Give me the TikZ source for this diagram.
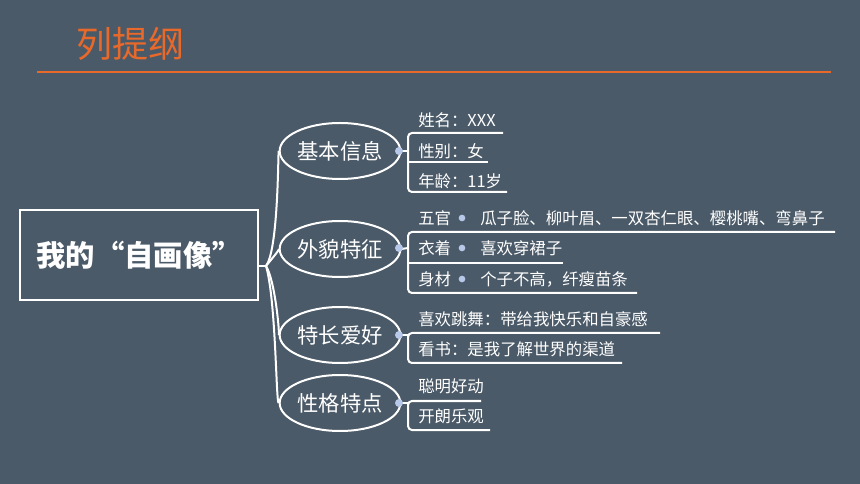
\documentclass[tikz,border=0pt]{standalone}
\usepackage{fontspec}
\setmainfont{Noto Sans CJK SC}
\usetikzlibrary{shapes.geometric}
\definecolor{bg}{HTML}{4B5A68}
\definecolor{org}{HTML}{E8692A}
\definecolor{dotc}{HTML}{B8C8E8}
\begin{document}
\begin{tikzpicture}[x=0.75pt,y=-0.75pt,
 ell/.style={draw=white,line width=1.5pt,ellipse,minimum width=78pt,minimum height=42pt,inner sep=0pt,font=\fontsize{16}{16}\selectfont,text=white},
 itm/.style={anchor=west,inner sep=0pt,font=\fontsize{12.3}{13}\selectfont,text=white},
 ln/.style={draw=white,line width=1.5pt},
 dt/.style={circle,fill=dotc,inner sep=0pt,minimum size=6pt}]
\useasboundingbox[fill=bg] (0,0) rectangle (860,484);
\node[anchor=west,text=org,font=\fontsize{27}{27}\selectfont] (title) at (72,44) {列提纲};
\draw[org,line width=1.5pt] (37,72) -- (831,72);
\node[draw=white,line width=1.5pt,minimum width=178pt,minimum height=68pt,text=white,font=\bfseries\fontsize{22}{22}\selectfont] (main) at (139,255) {我的“自画像”};
\node[ell] (e1) at (340,151) {基本信息};
\node[ell] (e2) at (340,249) {外貌特征};
\node[ell] (e3) at (340,335) {特长爱好};
\node[ell] (e4) at (340,403) {性格特点};
\coordinate (hub) at (266,266);
\draw[ln] (main.east|-hub) -- (hub);
\draw[ln] (hub) .. controls (278,250) and (278,160) .. (e1.west);
\draw[ln] (hub) .. controls (275,255) and (280,249) .. (e2.west);
\draw[ln] (hub) .. controls (275,280) and (280,335) .. (e3.west);
\draw[ln] (hub) .. controls (276,300) and (276,403) .. (e4.west);
\foreach \e/\y in {e1/151,e2/248,e3/335,e4/403}{
 \draw[ln] (\e.east) -- (408,\y);
 \node[dt] at (399,\y) {};}
% group 1
\node[itm] (a1) at (418,120) {姓名：XXX};
\node[itm] (a2) at (418,151) {性别：女};
\node[itm] (a3) at (418,181) {年龄：11岁};
\draw[ln,rounded corners=3pt] (503,133) -- (408,133) -- (408,192) -- (507,192);
\draw[ln] (408,162) -- (488,162);
% group 2
\node[itm] (b1) at (418,218) {五官};
\node[itm] (b2) at (418,248) {衣着};
\node[itm] (b3) at (418,279) {身材};
\foreach \y in {218,248,279}{\node[dt,minimum size=5pt] at (462,\y) {};}
\node[itm] (b1t) at (480,218) {瓜子脸、柳叶眉、一双杏仁眼、樱桃嘴、弯鼻子};
\node[itm] (b2t) at (480,248) {喜欢穿裙子};
\node[itm] (b3t) at (480,279) {个子不高，纤瘦苗条};
\draw[ln,rounded corners=3pt] (835,232) -- (408,232) -- (408,293) -- (637,293);
\draw[ln] (408,263) -- (563,263);
% group 3
\node[itm] (c1) at (418,319) {喜欢跳舞：带给我快乐和自豪感};
\node[itm] (c2) at (418,349) {看书：是我了解世界的渠道};
\draw[ln,rounded corners=3pt] (660,333) -- (408,333) -- (408,363) -- (622,363);
% group 4
\node[itm] (d1) at (418,386) {聪明好动};
\node[itm] (d2) at (418,416) {开朗乐观};
\draw[ln,rounded corners=3pt] (481,401) -- (408,401) -- (408,430) -- (490,430);
\end{tikzpicture}
\end{document}
